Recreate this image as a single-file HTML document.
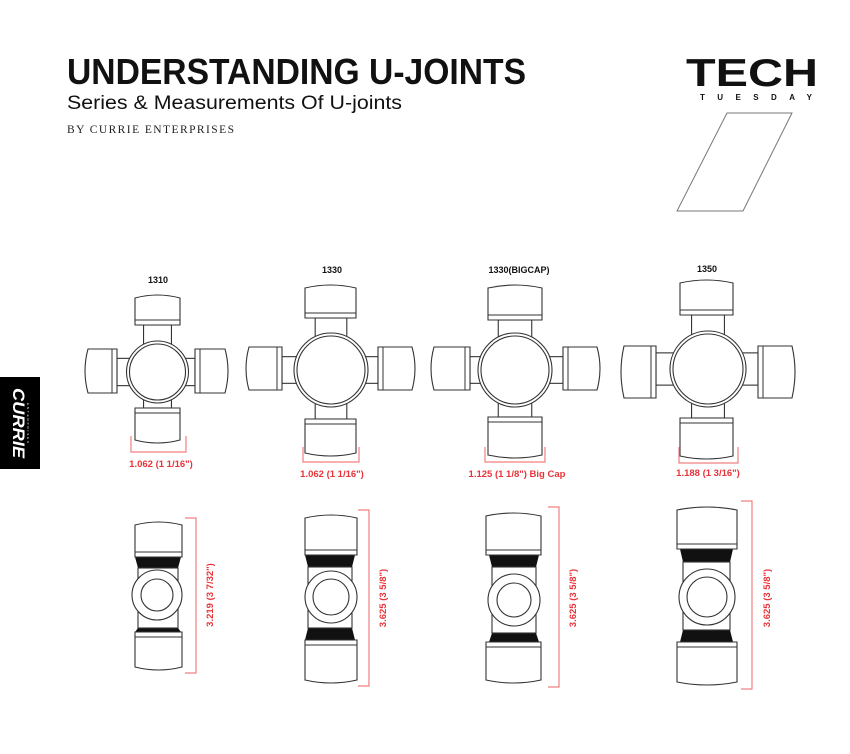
<!DOCTYPE html>
<html><head><meta charset="utf-8"><style>
html,body{margin:0;padding:0;background:#fff;}
svg{display:block;}
</style></head><body>
<svg id="s" width="850" height="754" viewBox="0 0 850 754" xmlns="http://www.w3.org/2000/svg">
<rect width="850" height="754" fill="#fff"/>
<text x="67" y="84" font-family="Liberation Sans, sans-serif" font-weight="bold" font-size="36" textLength="459" lengthAdjust="spacingAndGlyphs" fill="#111">UNDERSTANDING U-JOINTS</text>
<text x="67" y="109" font-family="Liberation Sans, sans-serif" font-size="19" textLength="335" lengthAdjust="spacingAndGlyphs" fill="#111">Series &amp; Measurements Of U-joints</text>
<text x="67" y="133" font-family="Liberation Serif, serif" font-size="11.5" textLength="167" lengthAdjust="spacing" fill="#222">BY CURRIE ENTERPRISES</text>
<text x="686" y="86" font-family="Liberation Sans, sans-serif" font-weight="bold" font-size="39" textLength="132" lengthAdjust="spacingAndGlyphs" fill="#111">TECH</text>
<text x="700" y="100" font-family="Liberation Sans, sans-serif" font-weight="bold" font-size="8" textLength="112" lengthAdjust="spacing" fill="#111">TUESDAY</text>
<polygon points="727,113 792,113 743,211 677,211" fill="none" stroke="#777" stroke-width="1"/>
<rect x="0" y="377" width="40" height="92" fill="#000"/>
<text transform="translate(13,423) rotate(90)" text-anchor="middle" font-family="Liberation Sans, sans-serif" font-weight="bold" font-style="italic" font-size="17" fill="#fff" textLength="70" lengthAdjust="spacingAndGlyphs">CURRIE</text>
<text transform="translate(27,423) rotate(90)" text-anchor="middle" font-family="Liberation Sans, sans-serif" font-size="3" fill="#fff" textLength="40">ENTERPRISES</text>
<g font-family="Liberation Sans, sans-serif" font-weight="bold" font-size="9" fill="#111" text-anchor="middle">
<text x="158" y="283">1310</text>
<text x="332" y="273">1330</text>
<text x="519" y="273">1330(BIGCAP)</text>
<text x="707" y="272">1350</text>
</g>
<g id="g"></g>
<g font-family="Liberation Sans, sans-serif" font-weight="bold" font-size="9.5" fill="#e8333a" text-anchor="middle">
<text x="161" y="467">1.062 (1 1/16")</text>
<text x="332" y="477">1.062 (1 1/16")</text>
<text x="517" y="477">1.125 (1 1/8") Big Cap</text>
<text x="708" y="476">1.188 (1 3/16")</text>
<text transform="translate(213,595) rotate(-90)">3.219 (3 7/32")</text>
<text transform="translate(386,598) rotate(-90)">3.625 (3 5/8")</text>
<text transform="translate(576,598) rotate(-90)">3.625 (3 5/8")</text>
<text transform="translate(770,598) rotate(-90)">3.625 (3 5/8")</text>
</g>
</svg>
<script>
(function(){
var o='';var S='stroke="#333" stroke-width="1.1" fill="#fff"';
function vcap(x1,x2,y1,y2,up){
  var b=3;
  if(up){o+='<path d="M'+x1+','+(y1+b)+' Q'+((x1+x2)/2)+','+(y1-b)+' '+x2+','+(y1+b)+' L'+x2+','+y2+' L'+x1+','+y2+' Z" '+S+'/>';
    o+='<line x1="'+x1+'" y1="'+(y2-5)+'" x2="'+x2+'" y2="'+(y2-5)+'" stroke="#333" stroke-width="1"/>';}
  else{o+='<path d="M'+x1+','+y1+' L'+x2+','+y1+' L'+x2+','+(y2-b)+' Q'+((x1+x2)/2)+','+(y2+b)+' '+x1+','+(y2-b)+' Z" '+S+'/>';
    o+='<line x1="'+x1+'" y1="'+(y1+5)+'" x2="'+x2+'" y2="'+(y1+5)+'" stroke="#333" stroke-width="1"/>';}
}
function hcap(x1,x2,y1,y2,left){
  var b=3;
  if(left){o+='<path d="M'+(x1+b)+','+y1+' L'+x2+','+y1+' L'+x2+','+y2+' L'+(x1+b)+','+y2+' Q'+(x1-b)+','+((y1+y2)/2)+' '+(x1+b)+','+y1+' Z" '+S+'/>';
    o+='<line x1="'+(x2-5)+'" y1="'+y1+'" x2="'+(x2-5)+'" y2="'+y2+'" stroke="#333" stroke-width="1"/>';}
  else{o+='<path d="M'+x1+','+y1+' L'+(x2-b)+','+y1+' Q'+(x2+b)+','+((y1+y2)/2)+' '+(x2-b)+','+y2+' L'+x1+','+y2+' Z" '+S+'/>';
    o+='<line x1="'+(x1+5)+'" y1="'+y1+'" x2="'+(x1+5)+'" y2="'+y2+'" stroke="#333" stroke-width="1"/>';}
}
function topv(cx,cy,R,v,h,br){
  var w=(v[1]-v[0])*0.62, hh=(h[1]-h[0])*0.62;
  o+='<rect x="'+(cx-w/2)+'" y="'+v[3]+'" width="'+w+'" height="'+(v[4]-v[3])+'" '+S+'/>';
  o+='<rect x="'+h[3]+'" y="'+(cy-hh/2)+'" width="'+(h[4]-h[3])+'" height="'+hh+'" '+S+'/>';
  o+='<circle cx="'+cx+'" cy="'+cy+'" r="'+(R+3)+'" '+S+'/>';
  o+='<circle cx="'+cx+'" cy="'+cy+'" r="'+R+'" '+S+'/>';
  vcap(v[0],v[1],v[2],v[3],true); vcap(v[0],v[1],v[4],v[5],false);
  hcap(h[2],h[3],h[0],h[1],true); hcap(h[4],h[5],h[0],h[1],false);
  o+='<path d="M'+br[0]+','+br[2]+' L'+br[0]+','+br[3]+' L'+br[1]+','+br[3]+' L'+br[1]+','+br[2]+'" fill="none" stroke="#f08080" stroke-width="1.2"/>';
}
topv(157.5,372,28,[135,180,295,325,408,443],[349,393,85,117,195,228],[131,186,436,452]);
topv(331,370,34,[305,356,285,318,419,456],[347,390,246,282,378,415],[303,359,447,462]);
topv(515,370,34,[488,542,285,320,417,458],[347,390,431,470,563,600],[485,545,447,462]);
topv(708,369,35,[680,733,280,315,418,459],[346,398,621,656,758,795],[679,738,447,463]);
function side(x1,x2,t1,t2,bx1,bx2,b1,b2,c1,c2,cx,cy,r,ri,rx,ry1,ry2){
  var p=6;
  o+='<path d="M'+(bx1-p+3)+','+t2+' L'+(bx2+p-3)+','+t2+' L'+(bx2)+','+b1+' L'+bx1+','+b1+' Z" fill="#111"/>';
  o+='<path d="M'+bx1+','+b2+' L'+bx2+','+b2+' L'+(bx2+p-3)+','+c1+' L'+(bx1-p+3)+','+c1+' Z" fill="#111"/>';
  o+='<rect x="'+bx1+'" y="'+b1+'" width="'+(bx2-bx1)+'" height="'+(b2-b1)+'" '+S+'/>';
  o+='<circle cx="'+cx+'" cy="'+cy+'" r="'+r+'" '+S+'/>';
  o+='<circle cx="'+cx+'" cy="'+cy+'" r="'+ri+'" '+S+'/>';
  vcap(x1,x2,t1,t2,true); vcap(x1,x2,c1,c2,false);
  o+='<path d="M'+(rx-11)+','+ry1+' L'+rx+','+ry1+' L'+rx+','+ry2+' L'+(rx-11)+','+ry2+'" fill="none" stroke="#f08080" stroke-width="1.2"/>';
}
side(135,182,522,557,138,178,568,628,632,670,157,595,25,16,196,518,673);
side(305,357,515,555,308,352,567,628,640,683,331,597,26,18,369,510,686);
side(486,541,513,555,492,536,567,633,642,683,514,600,26,17,559,507,687);
side(677,737,507,549,683,730,562,630,642,685,707,597,28,20,752,501,689);
document.getElementById('g').innerHTML=o;
})();
</script>
</body></html>
